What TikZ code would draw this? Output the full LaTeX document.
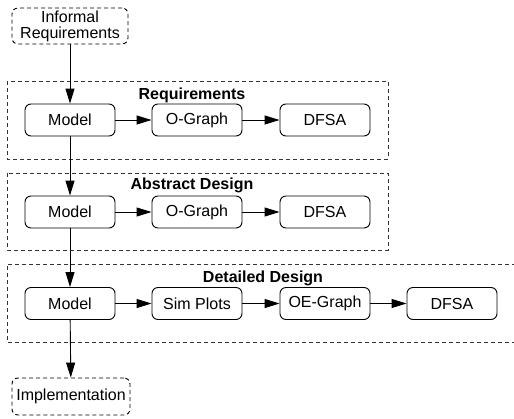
\documentclass[tikz,border=0pt]{standalone}
\usepackage{fontspec}
\setmainfont{Liberation Sans}
\usetikzlibrary{arrows.meta}
\begin{document}
\begin{tikzpicture}[x=1pt,y=-1pt,
  box/.style={draw, rounded corners=6pt, line width=0.9pt, minimum width=90pt, minimum height=32pt, inner sep=0pt, font=\fontsize{16}{18}\selectfont},
  dbox/.style={draw, dashed, dash pattern=on 4pt off 3pt, rounded corners=6pt, line width=0.9pt, inner sep=0pt, font=\fontsize{16}{18}\selectfont, align=center},
  frame/.style={draw=black!80, dash pattern=on 4pt off 3pt, line width=0.9pt},
  ttl/.style={font=\bfseries\fontsize{16}{18}\selectfont},
  arr/.style={-{Triangle[length=15pt,width=9pt]}, line width=0.9pt}
]
\useasboundingbox (0,0) rectangle (514,418);
\clip (0,0) rectangle (514,418);
% frames
\draw[frame] (7,81) rectangle (388,159);
\draw[frame] (7,173) rectangle (388,250);
\draw[frame] (530,264) -- (7,264) -- (7,342) -- (530,342);
\node[ttl] (t1) at (192,95) {Requirements};
\node[ttl] (t2) at (192,185) {Abstract Design};
\node[ttl] (t3) at (263,278) {Detailed Design};
% nodes
\node[dbox, minimum width=116pt, minimum height=36pt] (inf) at (70,26) {Informal\\[-2pt]Requirements};
\node[box] (m1) at (70,120) {Model};
\node[box] (g1) at (197,120) {O-Graph};
\node[box] (d1) at (325,120) {DFSA};
\node[box] (m2) at (70,212) {Model};
\node[box] (g2) at (197,212) {O-Graph};
\node[box] (d2) at (325,212) {DFSA};
\node[box] (m3) at (70,303.5) {Model};
\node[box] (s3) at (197,303.5) {Sim Plots};
\node[box] (g3) at (325,303.5) {OE-Graph};
\node[box] (d3) at (452,303.5) {DFSA};
\node[dbox, minimum width=118pt, minimum height=37pt] (imp) at (71,396.5) {Implementation};
% connectors
\draw[arr] (inf) -- (m1);
\draw[arr] (m1) -- (m2);
\draw[arr] (m2) -- (m3);
\draw[arr] (m3) -- (imp);
\draw[arr] (m1) -- (g1);
\draw[arr] (g1) -- (d1);
\draw[arr] (m2) -- (g2);
\draw[arr] (g2) -- (d2);
\draw[arr] (m3) -- (s3);
\draw[arr] (s3) -- (g3);
\draw[arr] (g3) -- (d3);
\end{tikzpicture}
\end{document}
